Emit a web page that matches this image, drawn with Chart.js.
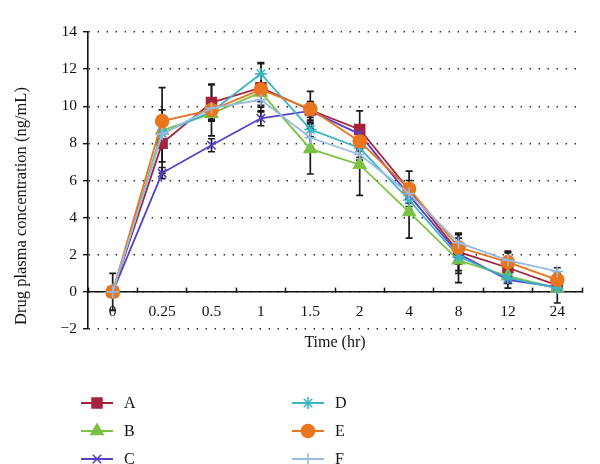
<!DOCTYPE html>
<html>
<head>
<meta charset="utf-8">
<script src="https://cdn.jsdelivr.net/npm/chart.js@4.4.0/dist/chart.umd.min.js"></script>
<style>
  html, body { margin: 0; padding: 0; background: #fff; }
</style>
</head>
<body>
<canvas id="grafico" width="600" height="464"></canvas>
<script>
// ---------------- dati ----------------
const tempi = ["0", "0.25", "0.5", "1", "1.5", "2", "4", "8", "12", "24"];
const nomiSerie = ["A", "B", "C", "D", "E", "F"];

const serieA = [0, 8.0, 10.2, 11.0, 9.8, 8.75, 5.5, 2.15, 1.3, 0.35];
const serieB = [0, 8.7, 9.6, 10.75, 7.7, 6.85, 4.3, 1.7, 0.85, 0.2];
const serieC = [0, 6.4, 7.9, 9.35, 9.75, 8.5, 5.2, 2.05, 0.65, 0.25];
const serieD = [0, 8.55, 9.7, 11.75, 8.75, 7.75, 4.95, 1.9, 0.75, 0.2];
const serieE = [0, 9.2, 9.8, 10.9, 9.85, 8.1, 5.55, 2.4, 1.6, 0.65];
const serieF = [0, 8.5, 9.9, 10.35, 8.3, 7.4, 5.3, 2.65, 1.7, 1.1];

// deviazioni standard (barre di errore simmetriche)
const erroreA = [0, 1.0, 0.95, 1.3, 0.4, 1.0, 0.5, 1.0, 0.3, 0.2];
const erroreB = [0, 2.3, 0.4, 0.5, 1.35, 1.65, 1.4, 1.2, 0.3, 0.1];
const erroreC = [0, 0.3, 0.35, 0.4, 0.5, 0.5, 0.4, 1.05, 0.45, 0.1];
const erroreD = [0, 0.5, 0.4, 0.6, 0.4, 0.5, 0.5, 0.4, 0.3, 0.8];
const erroreE = [1.0, 0.6, 1.4, 0.85, 0.95, 0.5, 0.95, 0.7, 0.6, 0.3];
const erroreF = [0, 0.4, 0.5, 0.4, 0.5, 0.3, 0.5, 0.5, 0.4, 0.2];

const tickAsseY = [-2, 0, 2, 4, 6, 8, 10, 12, 14];

// ---------------- stile ----------------
const font = "'Liberation Serif', 'DejaVu Serif', serif";
const colori = ["#A3243B", "#7BC142", "#5540C8", "#3DB4C4", "#E8761E", "#98B9E3"];
const marcatori = ["rect", "triangle", "crossRot", "star", "circle", "cross"];
const raggi = [7, 7, 6, 6, 6.5, 6];

const valori = [serieA, serieB, serieC, serieD, serieE, serieF];
const errori = [erroreA, erroreB, erroreC, erroreD, erroreE, erroreF];

const datasets = nomiSerie.map(function (nome, i) {
    return {
        label: nome,
        data: valori[i],
        errori: errori[i],
        borderColor: colori[i],
        backgroundColor: colori[i],
        borderWidth: 1.8,
        pointStyle: marcatori[i],
        pointRadius: raggi[i],
        pointBorderWidth: 1.6,
        pointBackgroundColor: colori[i],
        pointBorderColor: colori[i],
        tension: 0,
        order: 6 - i
    };
});

const disegnaMarcatore = function (ctx, stile, raggio, x, y, colore) {
    ctx.save();
    ctx.fillStyle = colore;
    ctx.strokeStyle = colore;
    ctx.lineWidth = 1.6;
    Chart.helpers.drawPoint(ctx, { pointStyle: stile, radius: raggio, rotation: 0, borderWidth: 1.6 }, x, y);
    ctx.restore();
};

// barre di errore, titoli degli assi, legenda
const decorazioni = {
    id: "decorazioni",
    beforeDatasetsDraw(chart) {
        const ctx = chart.ctx;
        const y = chart.scales.y;
        ctx.save();
        ctx.strokeStyle = "#1a1a1a";
        ctx.lineWidth = 1.7;
        chart.data.datasets.forEach(function (ds, k) {
            const meta = chart.getDatasetMeta(k);
            ds.errori.forEach(function (e, i) {
                if (!e) return;
                const px = meta.data[i].x;
                const alto = y.getPixelForValue(ds.data[i] + e);
                const basso = y.getPixelForValue(ds.data[i] - e);
                ctx.beginPath();
                ctx.moveTo(px, alto); ctx.lineTo(px, basso);
                ctx.moveTo(px - 3.5, alto); ctx.lineTo(px + 3.5, alto);
                ctx.moveTo(px - 3.5, basso); ctx.lineTo(px + 3.5, basso);
                ctx.stroke();
            });
        });
        ctx.restore();
    },
    afterDraw(chart) {
        const ctx = chart.ctx;
        const area = chart.chartArea;
        ctx.save();
        ctx.fillStyle = "#111";
        ctx.font = "16px " + font;
        ctx.textAlign = "center";
        ctx.textBaseline = "middle";
        ctx.fillText("Time (hr)", (area.left + area.right) / 2, area.bottom + 14);

        ctx.save();
        ctx.translate(22, 206);
        ctx.rotate(-Math.PI / 2);
        ctx.font = "16.5px " + font;
        ctx.fillText("Drug plasma concentration (ng/mL)", 0, 0);
        ctx.restore();

        // legenda su due colonne
        ctx.textAlign = "left";
        chart.data.datasets.forEach(function (ds, i) {
            const col = Math.floor(i / 3);
            const riga = i % 3;
            const x0 = col === 0 ? 81 : 292;
            const yy = 403 + riga * 28;
            ctx.strokeStyle = colori[i];
            ctx.lineWidth = 2;
            ctx.beginPath();
            ctx.moveTo(x0, yy);
            ctx.lineTo(x0 + 32, yy);
            ctx.stroke();
            disegnaMarcatore(ctx, marcatori[i], raggi[i], x0 + 16, yy, colori[i]);
            ctx.fillStyle = "#111";
            ctx.fillText(ds.label, x0 + 43, yy + 1);
        });
        ctx.restore();
    }
};

const grafico = new Chart(document.getElementById("grafico"), {
    type: "line",
    data: { labels: tempi, datasets: datasets },
    options: {
        responsive: false,
        animation: false,
        layout: { padding: { left: 0, top: 32, right: 18, bottom: 135 } },
        plugins: { legend: { display: false }, tooltip: { enabled: false } },
        scales: {
            x: {
                type: "category",
                position: { y: 0 },
                offset: true,
                grid: {
                    offset: true,
                    drawOnChartArea: false,
                    drawTicks: true,
                    tickLength: -5,
                    tickColor: "#111",
                    tickWidth: 1.5
                },
                border: { display: true, color: "#111", width: 1.6 },
                ticks: {
                    color: "#111",
                    font: { family: font, size: 15.5 },
                    padding: 16,
                    maxRotation: 0,
                    autoSkip: false
                }
            },
            y: {
                min: -2,
                max: 14,
                afterFit: function (scale) { scale.width = 88; },
                afterBuildTicks: function (scale) {
                    scale.ticks = tickAsseY.map(function (v) { return { value: v }; });
                },
                grid: {
                    color: "#222",
                    lineWidth: 1.4,
                    tickLength: 5,
                    tickColor: "#111",
                    tickWidth: 1.4,
                    tickBorderDash: []
                },
                border: { display: true, color: "#111", width: 1.6, dash: [1.4, 7.6] },
                ticks: {
                    color: "#111",
                    font: { family: font, size: 15.5 },
                    padding: 6,
                    callback: function (v) { return v < 0 ? "\u2212" + Math.abs(v) : String(v); }
                }
            }
        }
    },
    plugins: [decorazioni]
});
</script>
</body>
</html>
